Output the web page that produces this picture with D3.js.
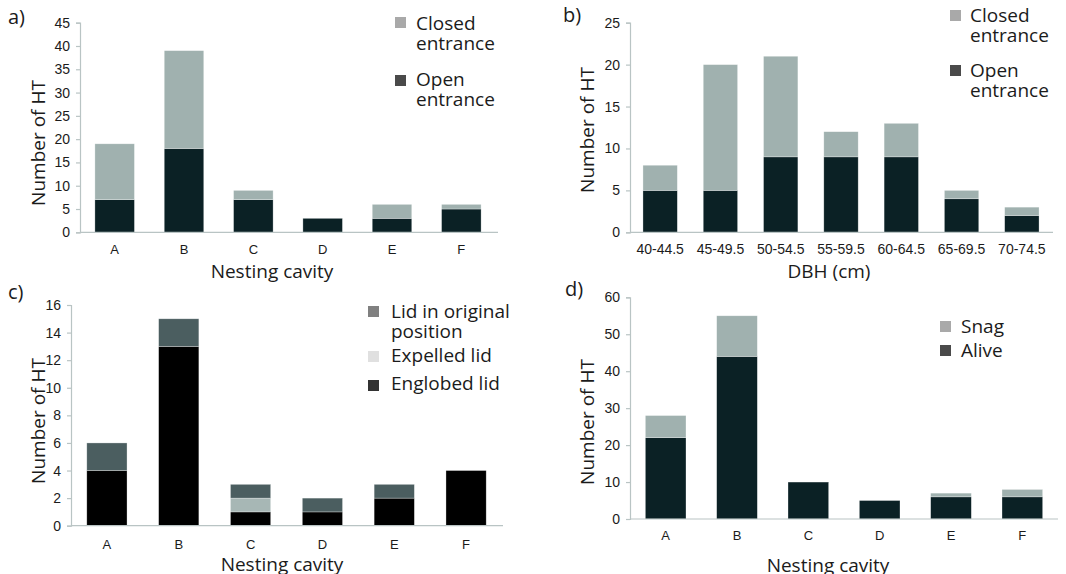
<!DOCTYPE html>
<html><head><meta charset="utf-8">
<script src="https://cdn.jsdelivr.net/npm/d3@7"></script>
<style>
html,body{margin:0;padding:0;background:#fff;}
svg{display:block;font-family:"Open Sans",sans-serif;}
</style></head>
<body>
<svg id="chart" width="1066" height="574"></svg>
<script>
// ---- Data ----
const cavities = ["A","B","C","D","E","F"];
const dbhClasses = ["40-44.5","45-49.5","50-54.5","55-59.5","60-64.5","65-69.5","70-74.5"];

// Panel a: entrance by nesting cavity
const aOpen   = [7, 18, 7, 3, 3, 5];
const aClosed = [12, 21, 2, 0, 3, 1];

// Panel b: entrance by DBH class
const bOpen   = [5, 5, 9, 9, 9, 4, 2];
const bClosed = [3, 15, 12, 3, 4, 1, 1];

// Panel c: lid status by nesting cavity
const cEnglobed = [4, 13, 1, 1, 2, 4];
const cExpelled = [0, 0, 1, 0, 0, 0];
const cOriginal = [2, 2, 1, 1, 1, 0];

// Panel d: tree status by nesting cavity
const dAlive = [22, 44, 10, 5, 6, 6];
const dSnag  = [6, 11, 0, 0, 1, 2];

const ticksA = [0,5,10,15,20,25,30,35,40,45];
const ticksB = [0,5,10,15,20,25];
const ticksC = [0,2,4,6,8,10,12,14,16];
const ticksD = [0,10,20,30,40,50,60];

const svg = d3.select("#chart");
const AXIS = "#b9c4c4", TEXT = "#1b1b1b";

function panel(cfg){
  const g = svg.append("g");
  const x = d3.scaleBand().domain(cfg.cats).range([cfg.x0, cfg.x1]).paddingInner(cfg.pad).paddingOuter(cfg.pad/2);
  const y = d3.scaleLinear().domain([0, cfg.max]).range([cfg.yb, cfg.yt]);
  const rows = cfg.cats.map((c,i)=>{const o={cat:c}; cfg.series.forEach(s=>o[s.key]=s.values[i]); return o;});
  const stack = d3.stack().keys(cfg.series.map(s=>s.key))(rows);
  stack.forEach((layer,li)=>{
    g.append("g").selectAll("rect").data(layer).join("rect")
      .attr("x", d=>x(d.data.cat)).attr("width", x.bandwidth())
      .attr("y", d=>y(d[1])).attr("height", d=>Math.max(0, y(d[0])-y(d[1])))
      .attr("fill", cfg.series[li].bar)
      .attr("stroke", d=> (d[1]-d[0])>0 ? "#ffffff" : "none").attr("stroke-width", 0.6).attr("stroke-opacity",0.5);
  });
  // y axis
  const ya = d3.axisLeft(y).tickValues(cfg.ticks).tickSize(4).tickPadding(6).tickFormat(d3.format("d"));
  const yg = g.append("g").attr("transform",`translate(${cfg.x0},0)`).call(ya);
  yg.select(".domain").attr("stroke",AXIS).attr("stroke-width",1.2);
  yg.selectAll(".tick line").attr("stroke",AXIS).attr("stroke-width",1.2);
  yg.selectAll(".tick text").attr("fill",TEXT).style("font-size","14px");
  // x axis
  const xa = d3.axisBottom(x).tickSize(0).tickPadding(cfg.xpad);
  const xg = g.append("g").attr("transform",`translate(0,${cfg.yb})`).call(xa);
  xg.select(".domain").attr("stroke",AXIS).attr("stroke-width",1.2).attr("d",`M${cfg.x0},0H${cfg.xend}`);
  xg.selectAll(".tick text").attr("fill",TEXT).style("font-size", cfg.catFont+"px");
  // titles
  g.append("text").attr("transform",`translate(${cfg.ytx},${cfg.yty}) rotate(-90)`)
    .attr("text-anchor","middle").attr("dominant-baseline","central").attr("fill",TEXT).style("font-size","19px").text("Number of HT");
  g.append("text").attr("x",cfg.xtx).attr("y",cfg.xty).attr("text-anchor","middle").attr("fill",TEXT).style("font-size","19px").text(cfg.xtitle);
  g.append("text").attr("x",cfg.lx).attr("y",cfg.ly).attr("fill",TEXT).style("font-size","20px").text(cfg.label);
  // legend
  cfg.legend.forEach(l=>{
    g.append("rect").attr("x",l.sx).attr("y",l.sy).attr("width",11).attr("height",11).attr("fill",l.color);
    l.lines.forEach((t,k)=>{
      g.append("text").attr("x",l.tx).attr("y",l.ty+k*20).attr("fill",TEXT).style("font-size","19px").text(t);
    });
  });
}

panel({cats:cavities, x0:80, x1:496, xend:498, pad:0.43, yt:22.7, yb:232.3, max:45, ticks:ticksA,
  series:[{key:"open",values:aOpen,bar:"#0b2125"},{key:"closed",values:aClosed,bar:"#a0b1af"}],
  xpad:12, catFont:13, ytx:38, yty:143, xtx:272, xty:278, xtitle:"Nesting cavity", label:"a)", lx:8, ly:24,
  legend:[{sx:395,sy:17,color:"#a9a9a9",tx:416,ty:30,lines:["Closed","entrance"]},
          {sx:395,sy:75,color:"#4a4a4a",tx:416,ty:86,lines:["Open","entrance"]}]});

panel({cats:dbhClasses, x0:630, x1:1052, xend:1053, pad:0.43, yt:22.7, yb:232.3, max:25, ticks:ticksB,
  series:[{key:"open",values:bOpen,bar:"#0b2125"},{key:"closed",values:bClosed,bar:"#a0b1af"}],
  xpad:12, catFont:14, ytx:587, yty:130, xtx:829, xty:278, xtitle:"DBH (cm)", label:"b)", lx:563, ly:22,
  legend:[{sx:950,sy:10,color:"#a9a9a9",tx:970,ty:22,lines:["Closed","entrance"]},
          {sx:950,sy:65,color:"#4a4a4a",tx:970,ty:77,lines:["Open","entrance"]}]});

panel({cats:cavities, x0:71, x1:502, xend:503, pad:0.44, yt:305, yb:525.7, max:16, ticks:ticksC,
  series:[{key:"eng",values:cEnglobed,bar:"#000000"},{key:"exp",values:cExpelled,bar:"#a7b7b5"},{key:"orig",values:cOriginal,bar:"#4b5e60"}],
  xpad:14, catFont:13, ytx:38, yty:421, xtx:282, xty:571, xtitle:"Nesting cavity", label:"c)", lx:8, ly:299,
  legend:[{sx:368,sy:306,color:"#808080",tx:391,ty:318,lines:["Lid in original","position"]},
          {sx:368,sy:351,color:"#e0e0e0",tx:391,ty:362,lines:["Expelled lid"]},
          {sx:368,sy:380,color:"#333333",tx:391,ty:390,lines:["Englobed lid"]}]});

panel({cats:cavities, x0:630, x1:1058, xend:1058, pad:0.43, yt:297.3, yb:519, max:60, ticks:ticksD,
  series:[{key:"alive",values:dAlive,bar:"#0b2125"},{key:"snag",values:dSnag,bar:"#a0b1af"}],
  xpad:12, catFont:13, ytx:587, yty:422, xtx:828, xty:572, xtitle:"Nesting cavity", label:"d)", lx:565, ly:296,
  legend:[{sx:940,sy:321,color:"#a9a9a9",tx:961,ty:333,lines:["Snag"]},
          {sx:940,sy:345,color:"#4a4a4a",tx:961,ty:357,lines:["Alive"]}]});
</script>
</body></html>
